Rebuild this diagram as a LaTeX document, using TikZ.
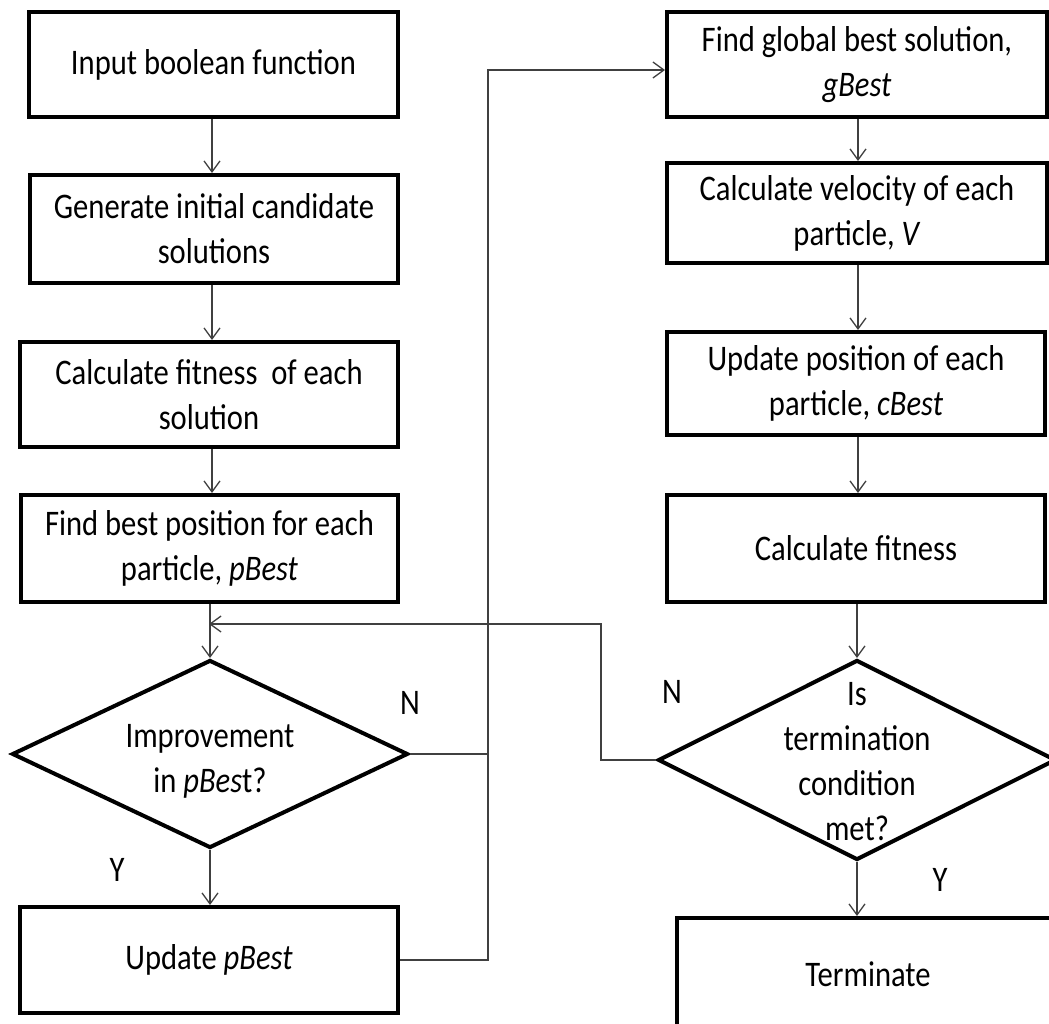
\documentclass[tikz,border=0pt]{standalone}
\usepackage{fontspec}
\setmainfont{Carlito}[FakeStretch=0.85]
\usetikzlibrary{shapes.geometric,arrows.meta}

\begin{document}
\begin{tikzpicture}[x=1pt,y=-1pt,
  every node/.style={font=\fontsize{36}{45}\selectfont, text=black},
  stepbox/.style={draw=black, line width=4pt, rectangle, inner sep=0pt, align=center},
  decision/.style={draw=black, line width=4pt, diamond, inner sep=0pt},
  dtext/.style={align=center, inner sep=0pt},
  lbl/.style={inner sep=0pt},
  link/.style={draw=black!75, line width=1.3pt},
  flow/.style={link, -{Straight Barb[length=11pt,width=16pt]}}
]
\useasboundingbox (0,0) rectangle (1049,1024);
\fill[white] (0,0) rectangle (1049,1024);
\clip (0,0) rectangle (1049,1024);

% left column
\node[stepbox, minimum width=369pt, minimum height=105pt] (b1) at (213.5,64.5) {Input boolean function};
\node[stepbox, minimum width=368pt, minimum height=108pt] (b2) at (214,229) {Generate initial candidate\\solutions};
\node[stepbox, minimum width=378pt, minimum height=105pt] (b3) at (209,394.5) {Calculate fitness~ of each\\solution};
\node[stepbox, minimum width=377pt, minimum height=107pt] (b4) at (209.5,548.5) {Find best position for each\\particle, \textit{pBest}};
\node[decision, minimum width=396pt, minimum height=188pt] (d1) at (210,754) {};
\node[dtext] (d1t) at (210,761) {Improvement\\in \textit{pBes}t?};
\node[stepbox, minimum width=378pt, minimum height=106pt] (b5) at (209,960) {Update \textit{pBest}};

% right column
\node[stepbox, minimum width=380pt, minimum height=105pt] (r1) at (857,64.5) {Find global best solution,\\\textit{gBest}};
\node[stepbox, minimum width=380pt, minimum height=100pt] (r2) at (857,213) {Calculate velocity of each\\particle, \textit{V}};
\node[stepbox, minimum width=378pt, minimum height=103pt] (r3) at (856,383.5) {Update position of each\\particle, \textit{cBest}};
\node[stepbox, minimum width=378pt, minimum height=107pt] (r4) at (856,548.5) {Calculate fitness};
\node[decision, minimum width=398pt, minimum height=200pt] (d2) at (857,760) {};
\node[dtext] (d2t) at (857,762) {Is\\termination\\condition\\met?};
\node[stepbox, minimum width=383pt, minimum height=112pt] (t) at (868,974) {Terminate};

% branch labels
\node[lbl] (n1) at (410,703) {N};
\node[lbl] (n2) at (672,692) {N};
\node[lbl] (y1) at (117,870) {Y};
\node[lbl] (y2) at (940,880) {Y};

% connector helpers
\coordinate (colL) at (212,0);
\coordinate (colR) at (858,0);
\coordinate (j1) at (209,624);
\coordinate (loopc) at (601,624);
\coordinate (bus) at (488,70);

% left column flow
\draw[flow] (colL |- b1.south) -- (colL |- b2.north);
\draw[flow] (colL |- b2.south) -- (colL |- b3.north);
\draw[flow] (colL |- b3.south) -- (colL |- b4.north);
\draw[flow] (d1.north |- b4.south) -- (d1.north);
\draw[flow] (d1.south) -- (d1.south |- b5.north);

% right column flow
\draw[flow] (colR |- r1.south) -- (colR |- r2.north);
\draw[flow] (colR |- r2.south) -- (colR |- r3.north);
\draw[flow] (colR |- r3.south) -- (colR |- r4.north);
\draw[flow] (d2.north |- r4.south) -- (d2.north);
\draw[flow] (d2.south) -- (d2.south |- t.north);

% loop back when not terminated
\draw[flow] (d2.west) -| (loopc) -- (j1);

% no improvement / after update: go to global best
\draw[link] (d1.east) -- (d1.east -| bus);
\draw[flow] (b5.east) -| (bus) -- (bus -| r1.west);
\end{tikzpicture}
\end{document}
